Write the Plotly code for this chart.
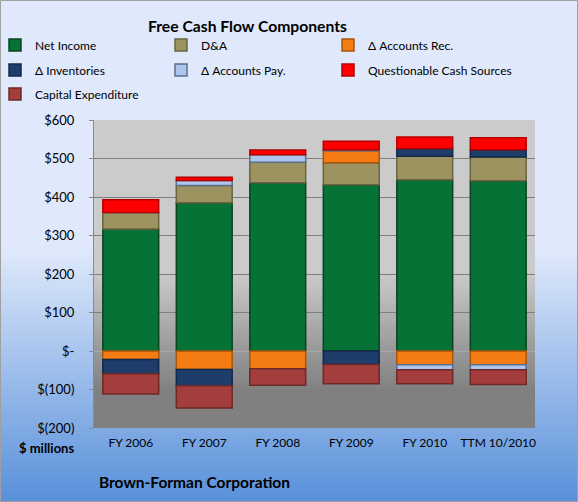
import plotly.graph_objects as go

# ---------------- data ----------------
categories = ["FY 2006", "FY 2007", "FY 2008", "FY 2009", "FY 2010", "TTM 10/2010"]
net_income = [317, 385, 437, 432, 445, 442]
d_and_a = [43, 45, 53, 57, 61, 62]
accounts_rec = [-22, -48, -46, 31, -36, -36]
inventories = [-37, -42, 0, -35, 20, 19]
accounts_pay = [0, 13, 20, 3, -13, -13]
questionable = [33, 8, 12, 22, 30, 31]
capex = [-53, -58, -43, -50, -36, -38]

y_tickvals = [-200, -100, 0, 100, 200, 300, 400, 500, 600]
y_ticktext = ["$(200)", "$(100)", "$-", "$100", "$200", "$300", "$400", "$500", "$600"]

series = [
    ("Net Income", net_income, "#077236", "#0a4424"),
    ("D&A", d_and_a, "#9c9360", "#6a6440"),
    ("\u0394 Accounts Rec.", accounts_rec, "#f57b13", "#a8560c"),
    ("\u0394 Inventories", inventories, "#1f3d6a", "#13284a"),
    ("\u0394 Accounts Pay.", accounts_pay, "#adc6ee", "#5c6e8e"),
    ("Questionable Cash Sources", questionable, "#ff0000", "#b40000"),
    ("Capital Expenditure", capex, "#a33e3c", "#6c2927"),
]

W, H = 578, 502
L, R, T, B = 94, 43, 120, 74
PW, PH = W - L - R, H - T - B


def px(x):
    return (x - L) / PW


def py(y):
    return (H - B - y) / PH


def lerp(c1, c2, f):
    return "rgb(%d,%d,%d)" % tuple(round(a + (b - a) * f) for a, b in zip(c1, c2))


FONT = "Lato, Calibri, Carlito, Arial, sans-serif"

# legend layout: 3 columns x 3 rows (text start x, row centre y in pixels)
col_text_x = [38, 204, 371]
row_y = [45, 70, 94]
TEXT_OFFSET = 43

fig = go.Figure()
legend_defs = {}
for i, (name, vals, col, edge) in enumerate(series):
    lg = "legend" if i == 0 else "legend%d" % (i + 1)
    fig.add_trace(go.Bar(
        x=categories, y=vals, name=name,
        marker=dict(color=col, line=dict(color=edge, width=1.5)),
        legend=lg, showlegend=True,
    ))
    r, c = divmod(i, 3)
    legend_defs[lg] = dict(
        orientation="h", xanchor="left", yanchor="middle",
        x=px(col_text_x[c] - TEXT_OFFSET), y=py(row_y[r]),
        bgcolor="rgba(0,0,0,0)", font=dict(family=FONT, size=12, color="#000"),
        itemwidth=30,
    )

shapes = []
# outer background gradient
top_c, bot_c = (223, 233, 251), (88, 144, 218)
shapes.append(dict(type="rect", xref="paper", yref="paper", x0=px(0), x1=px(W),
                   y0=py(0), y1=py(250), fillcolor="rgb(223,233,251)", line_width=0, layer="below"))
n = 63
for i in range(n):
    y0 = 250 + i * (H - 250) / n
    y1 = 250 + (i + 1) * (H - 250) / n + 0.6
    shapes.append(dict(type="rect", xref="paper", yref="paper", x0=px(0), x1=px(W),
                       y0=py(y0), y1=py(y1), fillcolor=lerp(top_c, bot_c, (i + 0.5) / n),
                       line_width=0, layer="below"))
# plot area gradient
p_top, p_bot = (203, 203, 203), (128, 128, 128)
shapes.append(dict(type="rect", xref="paper", yref="paper", x0=0, x1=1,
                   y0=py(T), y1=py(272), fillcolor="rgb(203,203,203)", line_width=0, layer="below"))
m = 40
for i in range(m):
    y0 = 272 + i * (390 - 272) / m
    y1 = 272 + (i + 1) * (390 - 272) / m + 0.6
    shapes.append(dict(type="rect", xref="paper", yref="paper", x0=0, x1=1,
                       y0=py(y0), y1=py(y1), fillcolor=lerp(p_top, p_bot, (i + 0.5) / m),
                       line_width=0, layer="below"))
shapes.append(dict(type="rect", xref="paper", yref="paper", x0=0, x1=1,
                   y0=py(389.5), y1=py(H - B), fillcolor="rgb(128,128,128)", line_width=0, layer="below"))
# outer border
shapes.append(dict(type="rect", xref="paper", yref="paper", x0=px(0.5), x1=px(W - 0.5),
                   y0=py(0.5), y1=py(H - 0.5), line=dict(color="#a0a0a0", width=1),
                   fillcolor="rgba(0,0,0,0)", layer="above"))

fig.update_layout(
    width=W, height=H,
    showlegend=True,
    margin=dict(l=L, r=R, t=T, b=B, pad=0, autoexpand=False),
    paper_bgcolor="rgb(223,233,251)",
    plot_bgcolor="rgb(203,203,203)",
    barmode="relative",
    bargap=0.24,
    font=dict(family=FONT, color="#000"),
    shapes=shapes,
    xaxis=dict(showgrid=False, showline=False, ticks="", tickfont=dict(size=12, family=FONT),
               ticklabelstandoff=6, fixedrange=True),
    yaxis=dict(range=[-200, 600], tickvals=y_tickvals, ticktext=y_ticktext,
               showgrid=True, gridcolor="#7f7f7f", gridwidth=1,
               zeroline=True, zerolinecolor="#a8a8a8", zerolinewidth=1,
               showline=True, linecolor="#8a8a8a", linewidth=1,
               ticks="outside", ticklen=4, tickcolor="#8a8a8a",
               ticklabelstandoff=12,
               tickfont=dict(size=13, family=FONT), fixedrange=True),
    annotations=[
        dict(text="<b>Free Cash Flow Components</b>", xref="paper", yref="paper",
             x=px(247), y=py(26), xanchor="center", yanchor="middle", showarrow=False,
             font=dict(size=15.7, family=FONT, color="#000")),
        dict(text="<b>$ millions</b>", xref="paper", yref="paper",
             x=px(46), y=py(448), xanchor="center", yanchor="middle", showarrow=False,
             font=dict(size=13, family=FONT, color="#000")),
        dict(text="<b>Brown-Forman Corporation</b>", xref="paper", yref="paper",
             x=px(97), y=py(482), xanchor="left", yanchor="middle", showarrow=False,
             font=dict(size=15.5, family=FONT, color="#000")),
    ],
)
fig.update_layout(**legend_defs)

fig.write_html("out.html")
